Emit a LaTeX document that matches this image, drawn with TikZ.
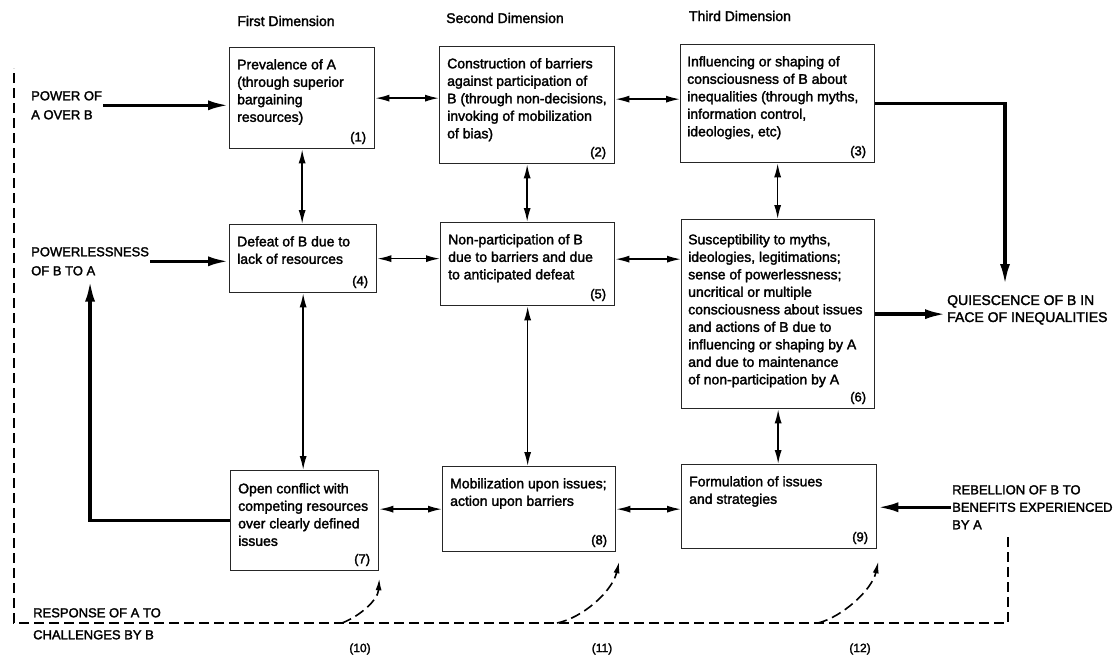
\documentclass[tikz,border=0pt]{standalone}
\usepackage{fontspec}
\setmainfont{Liberation Sans}[UprightFeatures={FakeBold=2}]
\usetikzlibrary{arrows.meta,positioning}
\tikzset{
  dimbox/.style={draw=black!85, line width=1.3pt, anchor=north west, inner sep=0pt},
  boxtext/.style={anchor=north west, align=left, inner sep=0pt, font=\fontsize{14}{17.5}\selectfont},
  boxnum/.style={anchor=south east, inner sep=0pt, font=\fontsize{13}{15}\selectfont},
  caps/.style={anchor=north west, align=left, inner sep=1pt, font=\fontsize{13}{19}\selectfont},
  twoway/.style={line width=1.5pt, {Latex[length=14pt,width=7pt]}-{Latex[length=14pt,width=7pt]}},
  bigarrow/.style={line width=3.4pt, -{Latex[length=21pt,width=10pt]}},
  response/.style={line width=1.6pt, dash pattern=on 10pt off 5pt},
}
\begin{document}
\begin{tikzpicture}[x=1pt,y=-1pt]
  \useasboundingbox (0,0) rectangle (1115,656);

  % dimensions
  \node[font=\fontsize{14}{16}\selectfont] (d1) at (286,21) {First Dimension};
  \node[font=\fontsize{14}{16}\selectfont] (d2) at (505,18) {Second Dimension};
  \node[font=\fontsize{14}{16}\selectfont] (d3) at (740,16) {Third Dimension};

  % boxes
  \node[dimbox, minimum width=145, minimum height=101] (b1) at (229,47) {};
  \node[dimbox, minimum width=175, minimum height=117] (b2) at (439,46) {};
  \node[dimbox, minimum width=194, minimum height=118] (b3) at (680,44) {};
  \node[dimbox, minimum width=147, minimum height=68] (b4) at (229,224) {};
  \node[dimbox, minimum width=174, minimum height=83] (b5) at (440,222) {};
  \node[dimbox, minimum width=193, minimum height=189] (b6) at (681,219) {};
  \node[dimbox, minimum width=148, minimum height=100] (b7) at (230,470) {};
  \node[dimbox, minimum width=173, minimum height=85] (b8) at (442,466) {};
  \node[dimbox, minimum width=195, minimum height=84] (b9) at (681,464) {};

  % box texts
  \node[boxtext] (t1) at ([shift={(8,12)}]b1.north west) {Prevalence of A\\(through superior\\bargaining\\resources)};
  \node[boxtext] (t2) at ([shift={(8,12)}]b2.north west) {Construction of barriers\\against participation of\\B (through non-decisions,\\invoking of mobilization\\of bias)};
  \node[boxtext] (t3) at ([shift={(7,12)}]b3.north west) {Influencing or shaping of\\consciousness of B about\\inequalities (through myths,\\information control,\\ideologies, etc)};
  \node[boxtext] (t4) at ([shift={(8,12)}]b4.north west) {Defeat of B due to\\lack of resources};
  \node[boxtext] (t5) at ([shift={(8,12)}]b5.north west) {Non-participation of B\\due to barriers and due\\to anticipated defeat};
  \node[boxtext] (t6) at ([shift={(7,15)}]b6.north west) {Susceptibility to myths,\\ideologies, legitimations;\\sense of powerlessness;\\uncritical or multiple\\consciousness about issues\\and actions of B due to\\influencing or shaping by A\\and due to maintenance\\of non-participation by A};
  \node[boxtext] (t7) at ([shift={(8,13)}]b7.north west) {Open conflict with\\competing resources\\over clearly defined\\issues};
  \node[boxtext] (t8) at ([shift={(8,12)}]b8.north west) {Mobilization upon issues;\\action upon barriers};
  \node[boxtext] (t9) at ([shift={(8,12)}]b9.north west) {Formulation of issues\\and strategies};

  % numbers
  \node[boxnum] (n1) at ([shift={(-9,-5)}]b1.south east) {(1)};
  \node[boxnum] (n2) at ([shift={(-9,-5)}]b2.south east) {(2)};
  \node[boxnum] (n3) at ([shift={(-9,-5)}]b3.south east) {(3)};
  \node[boxnum] (n4) at ([shift={(-9,-5)}]b4.south east) {(4)};
  \node[boxnum] (n5) at ([shift={(-9,-5)}]b5.south east) {(5)};
  \node[boxnum] (n6) at ([shift={(-9,-5)}]b6.south east) {(6)};
  \node[boxnum] (n7) at ([shift={(-9,-5)}]b7.south east) {(7)};
  \node[boxnum] (n8) at ([shift={(-9,-5)}]b8.south east) {(8)};
  \node[boxnum] (n9) at ([shift={(-9,-5)}]b9.south east) {(9)};

  % outside labels
  \node[caps] (pw) at (30,90) {POWER OF\\A OVER B};
  \node[caps] (pl) at (30,246) {POWERLESSNESS\\OF B TO A};
  \node[caps, font=\fontsize{14}{17}\selectfont] (q) at (946,294) {QUIESCENCE OF B IN\\FACE OF INEQUALITIES};
  \node[caps, font=\fontsize{13}{17.5}\selectfont] (rb) at (951,484) {REBELLION OF B TO\\BENEFITS EXPERIENCED\\BY A};
  \node[caps, font=\fontsize{13}{22}\selectfont] (rs) at (32,607) {RESPONSE OF A TO\\CHALLENGES BY B};
  \node[font=\fontsize{12}{14}\selectfont] (n10) at (360,649) {(10)};
  \node[font=\fontsize{12}{14}\selectfont] (n11) at (602,649) {(11)};
  \node[font=\fontsize{12}{14}\selectfont] (n12) at (860,649) {(12)};

  % links between boxes
  \draw[twoway] (b1.east) -- (b1.east -| b2.west);
  \draw[twoway] ([yshift=6pt]b2.east) -- ([yshift=6pt]b2.east -| b3.west);
  \draw[twoway] (b4.east) -- (b4.east -| b5.west);
  \draw[twoway] ([yshift=5pt]b5.east) -- ([yshift=5pt]b5.east -| b6.west);
  \draw[twoway] (b8.west -| b7.east) -- (b8.west);
  \draw[twoway] (b8.east) -- (b8.east -| b9.west);
  \draw[twoway] (b1.south) -- (b1.south |- b4.north);
  \draw[twoway] (b4.south) -- (b4.south |- b7.north);
  \draw[twoway] (b2.south) -- (b2.south |- b5.north);
  \draw[twoway] (b5.south) -- (b5.south |- b8.north);
  \draw[twoway] (b3.south) -- (b3.south |- b6.north);
  \draw[twoway] (b6.south) -- (b6.south |- b9.north);

  % heavy arrows
  \coordinate (qtop) at (1005,285);
  \draw[bigarrow] (pw.east) -- (pw.east -| b1.west);
  \draw[bigarrow] (pl.east) -- (pl.east -| b4.west);
  \draw[bigarrow] (b3.east) -| (qtop);
  \draw[bigarrow] (b6.east) -- (b6.east -| q.west);
  \draw[bigarrow] (rb.west) -- (rb.west -| b9.east);
  \draw[bigarrow] (b7.west) -| ([yshift=-4pt]pl.south);

  % response of A (dashed)
  \coordinate (rc) at (1008,537);
  \coordinate (dr) at (1008,623);
  \coordinate (dl) at (14,623);
  \coordinate (dt) at (14,68);
  \draw[response] (rc) -- (dr) -- (dl) -- (dt);

  \coordinate (c10) at (342,623);
  \coordinate (c11) at (557,623);
  \coordinate (c12) at (818,623);
  \draw[response, -{Latex[length=12pt,width=6pt]}] (c10) .. controls (360,616) and (378,600) .. ([yshift=-7pt]b7.south east);
  \draw[response, -{Latex[length=12pt,width=6pt]}] (c11) .. controls (582,618) and (612,592) .. ([shift={(3,9)}]b8.south east);
  \draw[response, -{Latex[length=12pt,width=6pt]}] (c12) .. controls (842,617) and (872,590) .. ([shift={(1,12)}]b9.south east);
\end{tikzpicture}
\end{document}
